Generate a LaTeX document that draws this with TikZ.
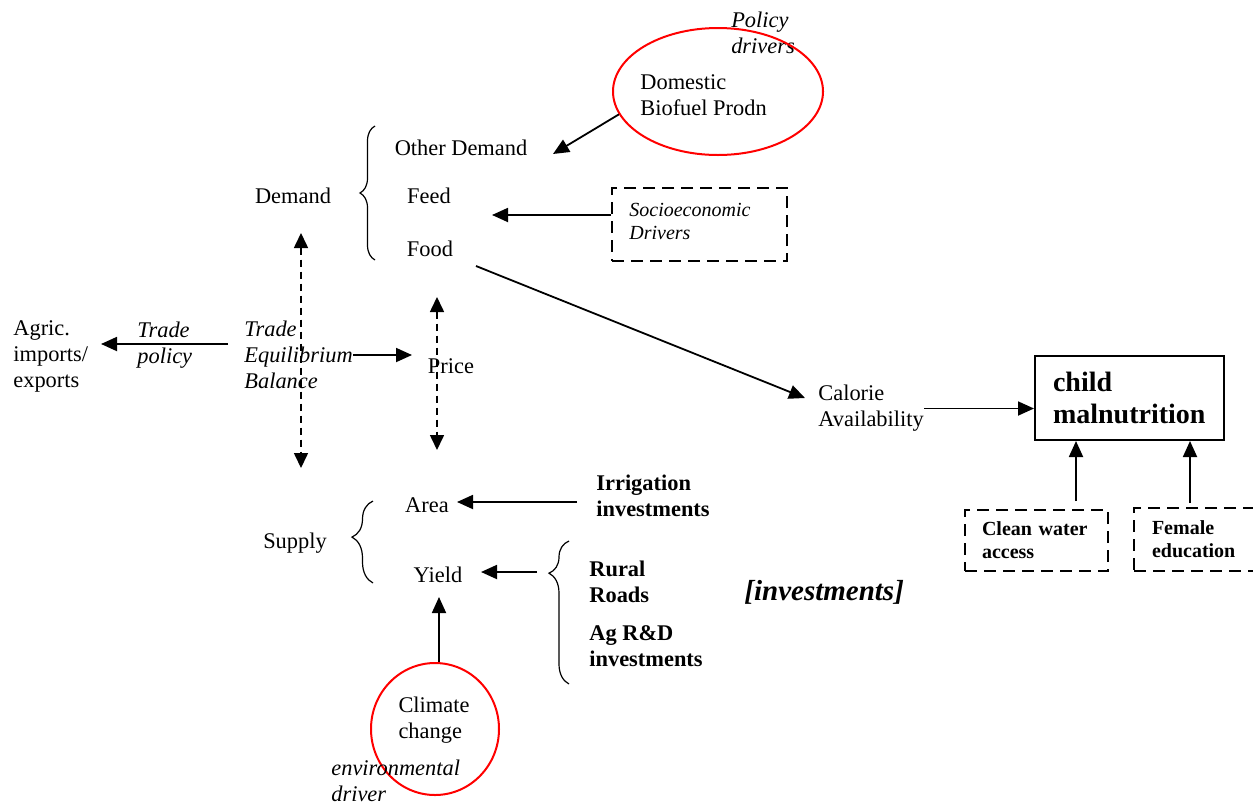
\documentclass[tikz,border=0pt]{standalone}
\usepackage{fontspec}
\setmainfont{Liberation Serif}
\usetikzlibrary{shapes.geometric,arrows.meta,decorations.pathreplacing,calc}
\begin{document}
\begin{tikzpicture}[x=0.5pt,y=-0.5pt,
 txt/.style={inner sep=0pt, align=left, font=\fontsize{11.2}{13}\selectfont},
 itxt/.style={txt, font=\fontsize{11.2}{13}\selectfont\itshape},
 btxt/.style={txt, font=\fontsize{11.2}{13}\selectfont\bfseries},
 stxt/.style={inner sep=0pt, align=left, font=\fontsize{10}{11.5}\selectfont\itshape},
 arr/.style={line width=0.9pt, -{Triangle[length=8pt,width=7pt]}},
 darr/.style={line width=0.8pt, dash pattern=on 3.5pt off 2.5pt, {Triangle[length=7.5pt,width=7pt]}-{Triangle[length=7.5pt,width=7pt]}},
 redell/.style={draw=red, line width=1pt, ellipse, inner sep=0pt},
 dbox/.style={draw, line width=1pt, dash pattern=on 6pt off 3.5pt, inner sep=0pt},
 brc/.style={decorate, line width=0.6pt, decoration={brace, amplitude=#1}},
]
\useasboundingbox (0,0) rectangle (1253,804);

% policy drivers
\node[itxt] (pol) at (763,33) {Policy\\drivers};
\node[redell, minimum width=105pt, minimum height=63.5pt] (dom) at (718,91.5) {};
\node[txt, anchor=west] (domtxt) at (640,95) {Domestic\\Biofuel Prodn};

% demand block
\node[txt] (demand) at (293,196) {Demand};
\node[txt] (othd) at (461,148) {Other Demand};
\node[txt] (feed) at (429,196) {Feed};
\node[txt] (food) at (430,249) {Food};
\draw[brc=7.5pt, decoration={aspect=0.5}] (375,260) -- (375,126);

% socioeconomic
\node[dbox, minimum width=87.5pt, minimum height=36.5pt] (socio) at (699.5,224.5) {};
\node[stxt, anchor=west] (sociotxt) at (629,221) {Socioeconomic\\Drivers};

% trade
\node[txt, anchor=west] (agric) at (13,356) {Agric.\\imports/\\exports};
\node[itxt, anchor=west] (tpol) at (137,345) {Trade\\policy};
\node[itxt, anchor=west] (teb) at (244,355) {Trade\\Equilibrium\\Balance};
\node[txt] (price) at (451,366) {Price};

% supply
\node[txt] (supply) at (295,543) {Supply};
\node[txt] (area) at (427,505) {Area};
\node[txt] (yield) at (438,575) {Yield};
\draw[brc=10.5pt, decoration={aspect=0.56}] (373,583) -- (373,501);

% investments
\node[btxt, anchor=west] (irr) at (596,496) {Irrigation\\investments};
\node[btxt, anchor=west] (rural) at (589,582) {Rural\\Roads};
\node[btxt, anchor=west] (agrd) at (589,646.5) {Ag R\&D\\investments};
\draw[brc=10pt, decoration={aspect=0.775}] (569,684) -- (569,541);
\node[inner sep=0pt, anchor=west, font=\fontsize{14.5}{16}\selectfont\bfseries\itshape] (inv) at (744,592) {[investments]};

% climate
\node[redell, minimum width=64pt, minimum height=66pt] (clim) at (435,729) {};
\node[txt] (climtxt) at (434,720) {Climate\\change};
\node[itxt, anchor=west] (env) at (331,781) {environmental\\driver};

% outcome
\node[txt, anchor=west] (cal) at (818,408.5) {Calorie\\Availability};
\node[draw, line width=1pt, minimum width=94.5pt, minimum height=42pt, text width=76.5pt, inner xsep=9pt, inner ysep=0pt, align=left, font=\fontsize{14}{16}\selectfont\bfseries] (child) at (1129.5,398) {child\\malnutrition};
\node[dbox, minimum width=71.5pt, minimum height=30.5pt, text width=54.5pt, inner xsep=8.5pt, align=left, font=\fontsize{10}{11.5}\selectfont\bfseries] (cw) at (1036.5,540.5) {Clean water\\access};
\node[dbox, minimum width=62pt, minimum height=31.5pt, text width=44pt, inner xsep=9pt, align=left, font=\fontsize{10}{11.5}\selectfont\bfseries] (fe) at (1196,539.5) {Female\\education};

% connectors
\draw[arr] (dom.193) -- ([shift={(92,6)}]othd.center);
\draw[arr] ([shift={(0,-9.5)}]socio.west) -- ([shift={(63,19)}]feed.center);
\draw[arr] ([shift={(46,17)}]food.center) -- ([shift={(-13,-10.5)}]cal.west);
\draw[arr] (cal.east) -- (child.west |- cal.east);
\draw[arr] ([shift={(-16,-11)}]teb.west) -- ([shift={(88,-12)}]agric.center -| agric.west);
\draw[arr] (teb.east) -- ([shift={(-39,0)}]price.center |- teb.east);
\draw[darr] ([shift={(8,37)}]demand.center) -- ([shift={(6,-75)}]supply.center);
\draw[darr] ([shift={(7,48)}]food.center) -- ([shift={(10,-55)}]area.center);
\draw[arr] ([shift={(-19,6)}]irr.west) -- ([shift={(30,-3)}]area.center);
\draw[arr] ([shift={(-52,-10)}]rural.west) -- ([shift={(43,-3)}]yield.center);
\draw[arr] ([shift={(4,0)}]clim.north) -- ([shift={(1,22)}]yield.center);
\draw[arr] ([shift={(39.5,-8)}]cw.north) -- ([shift={(39.5,0)}]cw.north |- child.south);
\draw[arr] ([shift={(-6,-4)}]fe.north) -- ([shift={(-6,0)}]fe.north |- child.south);
\end{tikzpicture}
\end{document}
